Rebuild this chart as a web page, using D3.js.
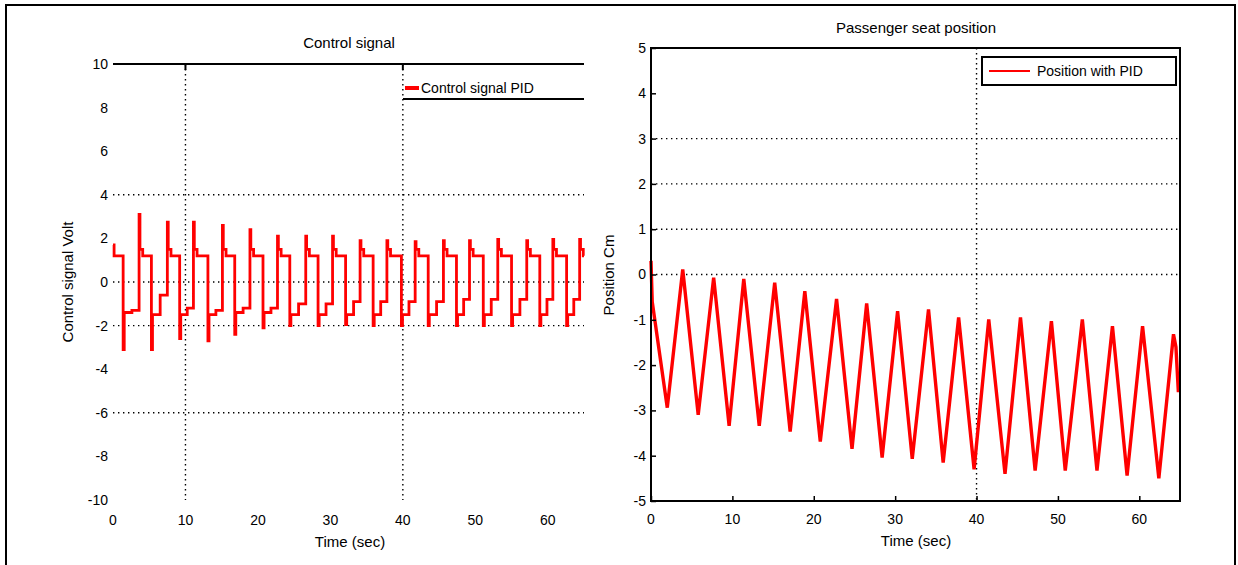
<!DOCTYPE html>
<html><head><meta charset="utf-8">
<script src="https://cdn.jsdelivr.net/npm/d3@7"></script>
<style>
html,body{margin:0;padding:0;background:#fff;}
text{font-family:"Liberation Sans",Arial,sans-serif;fill:#000;}
</style></head>
<body>
<svg id="c" width="1238" height="565"></svg>
<script>
// ---------- data: left chart (Control signal) ----------
const ctrlTitle = "Control signal";
const ctrlLegend = "Control signal PID";
const ctrlXTicks = [0, 10, 20, 30, 40, 50, 60];
const ctrlYTicks = [10, 8, 6, 4, 2, 0, -2, -4, -6, -8, -10];
const ctrlStart = [1.7, 1.2];          // initial value, settled value
const ctrlFallT   = [1.4, 5.3, 9.2, 13.1, 16.8, 20.7, 24.4, 28.3, 32.1, 35.9, 39.8, 43.5, 47.4, 51.1, 55.0, 58.9, 62.6];
const ctrlFallMin = [-3.1, -3.1, -2.6, -2.7, -2.4, -2.1, -2.0, -2.0, -1.95, -2.0, -2.0, -2.0, -2.0, -2.0, -2.0, -2.0, -2.0];
const ctrlLowA    = [-1.4, -1.5, -1.5, -1.5, -1.4, -1.4, -1.5, -1.5, -1.5, -1.5, -1.5, -1.5, -1.5, -1.5, -1.5, -1.5, -1.5];
const ctrlLowB    = [-1.3, -0.6, -1.2, -1.3, -1.2, -1.2, -1.0, -1.0, -0.9, -0.9, -0.9, -0.9, -0.8, -0.8, -0.8, -0.8, -0.8];
const ctrlRiseT   = [3.6, 7.5, 11.1, 15.1, 18.9, 22.7, 26.6, 30.3, 34.1, 37.8, 41.7, 45.6, 49.2, 53.1, 57.1, 60.7, 64.4];
const ctrlRiseMax = [3.1, 2.75, 2.75, 2.6, 2.4, 2.1, 2.1, 2.1, 1.9, 1.9, 1.85, 1.9, 1.9, 1.95, 1.9, 1.95, 1.95];
const ctrlHighA   = [1.5, 1.5, 1.5, 1.5, 1.5, 1.5, 1.5, 1.5, 1.5, 1.5, 1.5, 1.5, 1.5, 1.5, 1.5, 1.5, 1.5];
const ctrlHighB   = [1.2, 1.2, 1.2, 1.2, 1.2, 1.2, 1.2, 1.2, 1.2, 1.2, 1.2, 1.2, 1.2, 1.2, 1.2, 1.2, 1.2];

// ---------- data: right chart (Passenger seat position) ----------
const posTitle = "Passenger seat position";
const posLegend = "Position with PID";
const posXTicks = [0, 10, 20, 30, 40, 50, 60];
const posYTicks = [5, 4, 3, 2, 1, 0, -1, -2, -3, -4, -5];
const posT = [0, 0.15, 2.0, 3.9, 5.8, 7.7, 9.6, 11.4, 13.3, 15.2, 17.1, 18.9, 20.8, 22.8, 24.7, 26.5, 28.4, 30.3, 32.1, 34.1, 35.9, 37.8, 39.7, 41.5, 43.5, 45.4, 47.2, 49.2, 50.9, 53.0, 54.8, 56.7, 58.5, 60.4, 62.4, 64.2, 64.5, 64.8];
const posV = [0.3, -0.6, -2.94, 0.11, -3.1, -0.07, -3.34, -0.1, -3.34, -0.18, -3.47, -0.37, -3.69, -0.54, -3.85, -0.64, -4.04, -0.81, -4.07, -0.77, -4.15, -0.95, -4.3, -0.99, -4.4, -0.95, -4.33, -1.03, -4.33, -0.99, -4.33, -1.14, -4.44, -1.14, -4.5, -1.32, -1.6, -2.6];

// ---------- drawing ----------
const svg = d3.select("#c");
const red = "#ff0000";

// outer frame
svg.append("path").attr("d", "M6,565 V5 H1235 V565").attr("fill", "none")
  .attr("stroke", "#000").attr("stroke-width", 2);

function dotted(sel) {
  return sel.attr("stroke", "#000").attr("stroke-width", 1.4)
    .attr("stroke-dasharray", "1.4,3.6").attr("fill", "none");
}

// ===== Left chart =====
const xL = d3.scaleLinear().domain([0, 65]).range([113, 584]);
const yL = d3.scaleLinear().domain([-10, 10]).range([500, 64]);

// build step-wise signal from the edge tables
const ctrlPts = [[0, ctrlStart[0]], [0.15, ctrlStart[0]], [0.15, ctrlStart[1]]];
ctrlFallT.forEach((tf, i) => {
  const prevHigh = i === 0 ? ctrlStart[1] : ctrlHighB[i - 1];
  const tr = ctrlRiseT[i];
  const mid = tf + (tr - tf) * 0.55;
  ctrlPts.push([tf, prevHigh], [tf, ctrlFallMin[i]], [tf + 0.15, ctrlFallMin[i]], [tf + 0.15, ctrlLowA[i]],
    [mid, ctrlLowA[i]], [mid, ctrlLowB[i]], [tr, ctrlLowB[i]], [tr, ctrlRiseMax[i]],
    [tr + 0.12, ctrlRiseMax[i]], [tr + 0.12, ctrlHighA[i]], [tr + 0.5, ctrlHighA[i]], [tr + 0.5, ctrlHighB[i]]);
});
ctrlPts.push([65, ctrlHighB[ctrlHighB.length - 1]]);

const gL = svg.append("g");
// grid (dotted)
[10, 40].forEach(v => dotted(gL.append("line")).attr("x1", xL(v)).attr("x2", xL(v)).attr("y1", yL(10)).attr("y2", yL(-10)));
[4, 0, -2, -6].forEach(v => dotted(gL.append("line")).attr("x1", xL(0)).attr("x2", xL(65)).attr("y1", yL(v)).attr("y2", yL(v)));
// top line with ticks
gL.append("line").attr("x1", xL(0)).attr("x2", xL(65)).attr("y1", yL(10)).attr("y2", yL(10)).attr("stroke", "#000").attr("stroke-width", 2);
[10, 40].forEach(v => gL.append("line").attr("x1", xL(v)).attr("x2", xL(v)).attr("y1", yL(10)).attr("y2", yL(10) + 6).attr("stroke", "#000").attr("stroke-width", 2));

// series
gL.append("path").datum(ctrlPts)
  .attr("d", d3.line().x(d => xL(d[0])).y(d => yL(d[1])))
  .attr("fill", "none").attr("stroke", red).attr("stroke-width", 2.8).attr("stroke-linejoin", "miter");

// y ticks labels
gL.selectAll(".ly").data(ctrlYTicks).join("text")
  .attr("x", xL(0) - 5).attr("y", d => yL(d)).attr("dy", "0.35em")
  .attr("text-anchor", "end").attr("font-size", 14).text(d => d);
// x ticks labels
gL.selectAll(".lx").data(ctrlXTicks).join("text")
  .attr("x", d => xL(d)).attr("y", 525)
  .attr("text-anchor", "middle").attr("font-size", 14).text(d => d);
gL.append("text").attr("x", 349).attr("y", 48).attr("text-anchor", "middle").attr("font-size", 15).text(ctrlTitle);
gL.append("text").attr("x", 350).attr("y", 547).attr("text-anchor", "middle").attr("font-size", 15).text("Time (sec)");
gL.append("text").attr("transform", "translate(73,282) rotate(-90)").attr("text-anchor", "middle").attr("font-size", 15).text("Control signal Volt");
// legend
gL.append("line").attr("x1", 405).attr("x2", 419).attr("y1", 88).attr("y2", 88).attr("stroke", red).attr("stroke-width", 4);
gL.append("text").attr("x", 421).attr("y", 88).attr("dy", "0.35em").attr("font-size", 14).text(ctrlLegend);
gL.append("line").attr("x1", 403).attr("x2", 584).attr("y1", 99).attr("y2", 99).attr("stroke", "#000").attr("stroke-width", 2);

// ===== Right chart =====
const xR = d3.scaleLinear().domain([0, 65]).range([651, 1180]);
const yR = d3.scaleLinear().domain([-5, 5]).range([501, 48]);
const gR = svg.append("g");
[3, 2, 1, 0].forEach(v => dotted(gR.append("line")).attr("x1", xR(0)).attr("x2", xR(65)).attr("y1", yR(v)).attr("y2", yR(v)));
dotted(gR.append("line")).attr("x1", xR(40)).attr("x2", xR(40)).attr("y1", yR(5)).attr("y2", yR(-5));

gR.append("path").datum(posT.map((t, i) => [t, posV[i]]))
  .attr("d", d3.line().x(d => xR(d[0])).y(d => yR(d[1])))
  .attr("fill", "none").attr("stroke", red).attr("stroke-width", 3.4);

// box
gR.append("rect").attr("x", xR(0)).attr("y", yR(5)).attr("width", xR(65) - xR(0)).attr("height", yR(-5) - yR(5))
  .attr("fill", "none").attr("stroke", "#000").attr("stroke-width", 2);
// inward ticks
gR.append("g").attr("transform", `translate(0,${yR(-5)})`).call(d3.axisBottom(xR).tickValues(posXTicks).tickSize(-5).tickFormat(""))
  .call(g => { g.select(".domain").remove(); g.selectAll("line").attr("stroke-width", 1.5); });
gR.append("g").attr("transform", `translate(${xR(0)},0)`).call(d3.axisLeft(yR).tickValues(posYTicks).tickSize(-5).tickFormat(""))
  .call(g => { g.select(".domain").remove(); g.selectAll("line").attr("stroke-width", 1.5); });

gR.selectAll(".ry").data(posYTicks).join("text")
  .attr("x", xR(0) - 5).attr("y", d => yR(d)).attr("dy", "0.35em")
  .attr("text-anchor", "end").attr("font-size", 14).text(d => d);
gR.selectAll(".rx").data(posXTicks).join("text")
  .attr("x", d => xR(d)).attr("y", 524)
  .attr("text-anchor", "middle").attr("font-size", 14).text(d => d);
gR.append("text").attr("x", 916).attr("y", 33).attr("text-anchor", "middle").attr("font-size", 15).text(posTitle);
gR.append("text").attr("x", 916).attr("y", 546).attr("text-anchor", "middle").attr("font-size", 15).text("Time (sec)");
gR.append("text").attr("transform", "translate(614,275) rotate(-90)").attr("text-anchor", "middle").attr("font-size", 15).text("Position Cm");
// legend box
gR.append("rect").attr("x", 982).attr("y", 57).attr("width", 194).attr("height", 28).attr("fill", "#fff").attr("stroke", "#000").attr("stroke-width", 2);
gR.append("line").attr("x1", 989).attr("x2", 1030).attr("y1", 71).attr("y2", 71).attr("stroke", red).attr("stroke-width", 2);
gR.append("text").attr("x", 1037).attr("y", 71).attr("dy", "0.35em").attr("font-size", 14).text(posLegend);
</script>
</body></html>
